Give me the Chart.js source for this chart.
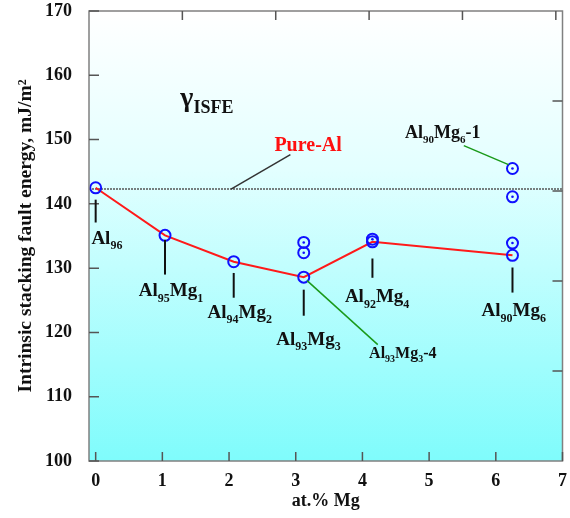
<!DOCTYPE html>
<html>
<head>
<meta charset="utf-8">
<script src="https://cdn.jsdelivr.net/npm/chart.js@4.4.1/dist/chart.umd.min.js"></script>
<style>
  html, body { margin: 0; padding: 0; background: #fff; }
  canvas { display: block; }
</style>
</head>
<body>
<canvas id="myChart" width="570" height="518"></canvas>
<script>
// Datos del gráfico
var alloyX = [0, 1.04, 2.07, 3.12, 4.15, 6.25];
var alloyEnergy = [142.5, 135.1, 131.0, 128.6, 134.1, 132.0];
var extraX = [3.12, 3.12, 4.15, 6.25, 6.25, 6.25];
var extraEnergy = [134.0, 132.4, 134.5, 133.9, 141.1, 145.5];
var pureAlEnergy = 142.3;
var xMin = -0.1, xMax = 7, yMin = 100, yMax = 170;
var topTicks = [1.3, 2.7, 4.1, 5.5, 6.9];
var rightTicks = [156, 142, 128, 114];

var serif = '"Liberation Serif", "Times New Roman", serif';

// Etiquetas: partes [texto, esSubindice]
var notes = [
  { parts: [['Al'], ['96', 1]], x: -0.064, y: 133.8, align: 'left', size: 19 },
  { parts: [['Al'], ['95', 1], ['Mg'], ['1', 1]], x: 1.13, y: 125.6, align: 'center', size: 19 },
  { parts: [['Al'], ['94', 1], ['Mg'], ['2', 1]], x: 2.16, y: 122.25, align: 'center', size: 19 },
  { parts: [['Al'], ['93', 1], ['Mg'], ['3', 1]], x: 3.19, y: 118.1, align: 'center', size: 19 },
  { parts: [['Al'], ['92', 1], ['Mg'], ['4', 1]], x: 4.22, y: 124.7, align: 'center', size: 19 },
  { parts: [['Al'], ['90', 1], ['Mg'], ['6', 1]], x: 6.27, y: 122.5, align: 'center', size: 19 },
  { parts: [['Al'], ['93', 1], ['Mg'], ['3', 1], ['-4']], x: 4.10, y: 116.1, align: 'left', size: 16 },
  { parts: [['Al'], ['90', 1], ['Mg'], ['6', 1], ['-1']], x: 4.64, y: 150.25, align: 'left', size: 18 },
  { parts: [['Pure-Al']], x: 2.68, y: 148.3, align: 'left', size: 20, color: '#ff1010' }
];

// Líneas guía: [x1, y1, x2, y2, color]
var leaders = [
  [0, 140.65, 0, 137.1, '#111'],
  [1.04, 134.4, 1.04, 129.0, '#111'],
  [2.07, 129.25, 2.07, 125.4, '#111'],
  [3.12, 126.65, 3.12, 122.6, '#111'],
  [4.15, 131.5, 4.15, 128.5, '#111'],
  [6.25, 130.1, 6.25, 126.2, '#111'],
  [3.17, 128.05, 4.23, 118.1, '#1a9a1a'],
  [5.52, 149.05, 6.19, 146.1, '#1a9a1a'],
  [2.92, 147.65, 2.03, 142.3, '#333']
];

function drawRich(ctx, parts, x, y, align, size, color) {
  var sub = Math.round(size * 0.63);
  var widths = parts.map(function (p) {
    ctx.font = 'bold ' + (p[1] ? sub : size) + 'px ' + serif;
    return ctx.measureText(p[0]).width;
  });
  var total = widths.reduce(function (a, b) { return a + b; }, 0);
  var cx = align === 'center' ? x - total / 2 : x;
  ctx.fillStyle = color || '#111';
  ctx.textAlign = 'left';
  ctx.textBaseline = 'alphabetic';
  parts.forEach(function (p, i) {
    ctx.font = 'bold ' + (p[1] ? sub : size) + 'px ' + serif;
    ctx.fillText(p[0], cx, p[1] ? y + size * 0.28 : y);
    cx += widths[i];
  });
}

var decor = {
  id: 'decor',
  beforeDatasetsDraw: function (chart) {
    var ctx = chart.ctx, a = chart.chartArea;
    var g = ctx.createLinearGradient(0, a.top, 0, a.bottom);
    g.addColorStop(0, '#ffffff');
    g.addColorStop(0.35, '#e3ffff');
    g.addColorStop(1, '#7ffcfc');
    ctx.save();
    ctx.fillStyle = g;
    ctx.fillRect(a.left, a.top, a.right - a.left, a.bottom - a.top);
    ctx.restore();
  },
  afterDatasetsDraw: function (chart) {
    var ctx = chart.ctx, a = chart.chartArea;
    var xs = chart.scales.x, ys = chart.scales.y;
    ctx.save();
    // marco
    ctx.strokeStyle = '#808080';
    ctx.lineWidth = 1.5;
    ctx.strokeRect(a.left, a.top, a.right - a.left, a.bottom - a.top);
    // marcas interiores
    ctx.strokeStyle = '#555';
    ctx.lineWidth = 1.5;
    ctx.beginPath();
    xs.ticks.forEach(function (t) {
      var px = xs.getPixelForValue(t.value);
      ctx.moveTo(px, a.bottom); ctx.lineTo(px, a.bottom - 9);
    });
    ys.ticks.forEach(function (t) {
      var py = ys.getPixelForValue(t.value);
      ctx.moveTo(a.left, py); ctx.lineTo(a.left + 10, py);
    });
    topTicks.forEach(function (v) {
      var px = xs.getPixelForValue(v);
      ctx.moveTo(px, a.top); ctx.lineTo(px, a.top + 9);
    });
    rightTicks.forEach(function (v) {
      var py = ys.getPixelForValue(v);
      ctx.moveTo(a.right, py); ctx.lineTo(a.right - 10, py);
    });
    ctx.stroke();
    // líneas guía
    leaders.forEach(function (l) {
      ctx.beginPath();
      ctx.strokeStyle = l[4];
      ctx.lineWidth = l[4] === '#111' ? 2 : 1.5;
      ctx.moveTo(xs.getPixelForValue(l[0]), ys.getPixelForValue(l[1]));
      ctx.lineTo(xs.getPixelForValue(l[2]), ys.getPixelForValue(l[3]));
      ctx.stroke();
    });
    // textos
    notes.forEach(function (n) {
      drawRich(ctx, n.parts, xs.getPixelForValue(n.x), ys.getPixelForValue(n.y), n.align, n.size, n.color);
    });
    // gamma ISFE
    var gx = xs.getPixelForValue(1.27), gy = ys.getPixelForValue(155.2);
    ctx.fillStyle = '#111';
    ctx.font = 'bold 28px ' + serif;
    ctx.textAlign = 'left';
    ctx.fillText('γ', gx, gy);
    var gw = ctx.measureText('γ').width;
    ctx.font = 'bold 18px ' + serif;
    ctx.fillText('ISFE', gx + gw, ys.getPixelForValue(154.1));
    ctx.restore();
  }
};

var data = {
  datasets: [
    {
      label: 'dots',
      data: extraX.map(function (x, i) { return { x: x, y: extraEnergy[i] }; }),
      pointRadius: 1.3,
      pointBackgroundColor: '#1010ff',
      pointBorderWidth: 0,
      showLine: false,
      order: 0
    },
    {
      label: 'extra',
      data: extraX.map(function (x, i) { return { x: x, y: extraEnergy[i] }; }),
      pointRadius: 5.5,
      pointBorderWidth: 2,
      pointBorderColor: '#1010ff',
      pointBackgroundColor: 'rgba(0,0,0,0)',
      showLine: false,
      order: 1
    },
    {
      label: 'alloys',
      data: alloyX.map(function (x, i) { return { x: x, y: alloyEnergy[i] }; }),
      showLine: true,
      borderColor: '#ff1a1a',
      borderWidth: 2,
      pointRadius: 5.5,
      pointBorderWidth: 2,
      pointBorderColor: '#1010ff',
      pointBackgroundColor: 'rgba(0,0,0,0)',
      order: 2
    },
    {
      label: 'Pure-Al',
      data: [{ x: xMin, y: pureAlEnergy }, { x: xMax, y: pureAlEnergy }],
      showLine: true,
      borderColor: '#555',
      borderWidth: 1.5,
      borderDash: [2, 1],
      pointRadius: 0,
      order: 3
    }
  ]
};

var options = {
  responsive: false,
  animation: false,
  layout: { padding: { top: 11, right: 2, left: 0, bottom: 0 } },
  plugins: { legend: { display: false }, tooltip: { enabled: false } },
  scales: {
    x: {
      type: 'linear',
      min: xMin,
      max: xMax,
      afterFit: function (s) { s.height = 57; s.paddingLeft = 0; s.paddingRight = 0; },
      afterBuildTicks: function (s) {
        s.ticks = [0, 1, 2, 3, 4, 5, 6, 7].map(function (v) { return { value: v }; });
      },
      grid: { display: false },
      border: { display: false },
      ticks: { color: '#111', padding: 2, font: { family: serif, size: 18, weight: 'bold' } },
      title: {
        display: true,
        text: 'at.% Mg',
        color: '#111',
        padding: { top: 0, bottom: 6 },
        font: { family: serif, size: 18, weight: 'bold' }
      }
    },
    y: {
      min: yMin,
      max: yMax,
      afterFit: function (s) { s.width = 89; s.paddingTop = 0; s.paddingBottom = 0; },
      grid: { display: false },
      border: { display: false },
      ticks: { stepSize: 10, color: '#111', padding: 9, font: { family: serif, size: 18, weight: 'bold' } },
      title: {
        display: true,
        text: 'Intrinsic stacking fault energy, mJ/m²',
        color: '#111',
        padding: { top: 14, bottom: 0 },
        font: { family: serif, size: 19.5, weight: 'bold' }
      }
    }
  }
};

var ctx = document.getElementById('myChart').getContext('2d');
var myChart = new Chart(ctx, {
  type: 'scatter',
  data: data,
  options: options,
  plugins: [decor]
});
</script>
</body>
</html>
